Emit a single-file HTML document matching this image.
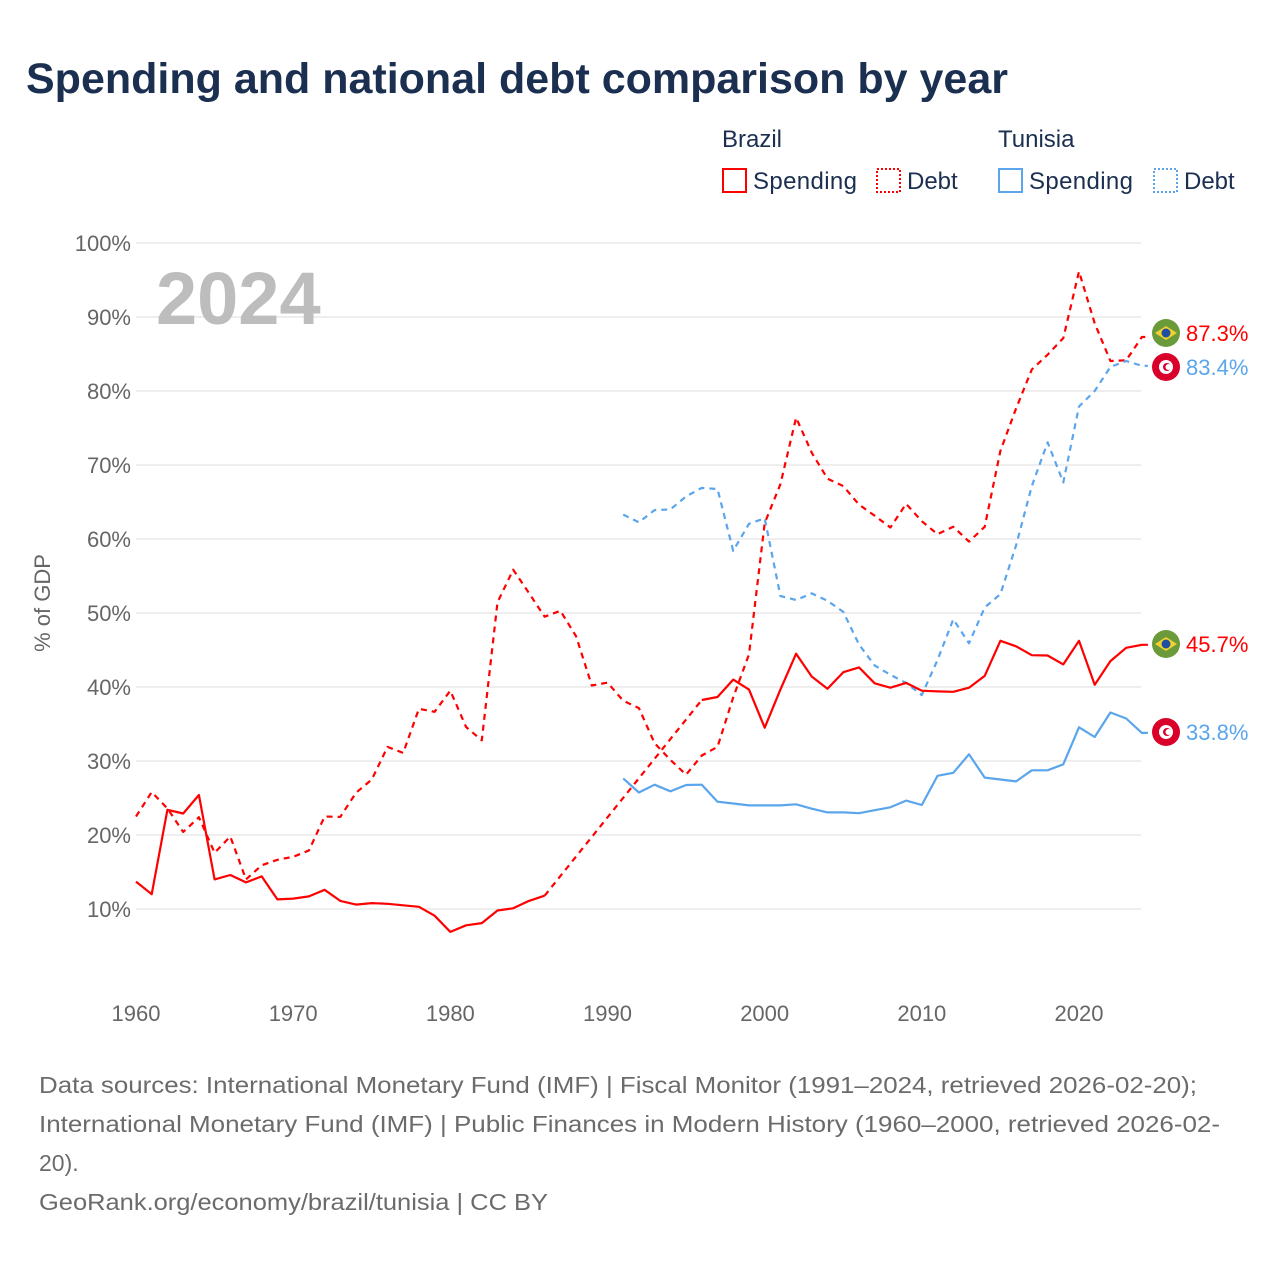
<!DOCTYPE html>
<html><head><meta charset="utf-8"><style>
html,body{margin:0;padding:0;background:#fff;}
body{width:1280px;height:1280px;position:relative;overflow:hidden;font-family:"Liberation Sans",sans-serif;}
</style></head><body>
<svg id="chart" width="1280" height="1280" viewBox="0 0 1280 1280" xmlns="http://www.w3.org/2000/svg" font-family="Liberation Sans, sans-serif">
<text x="26" y="93" font-size="43" font-weight="bold" fill="#1b2f50">Spending and national debt comparison by year</text>
<g font-size="24" fill="#1b2f50">
<text x="722" y="147">Brazil</text>
<text x="998" y="147">Tunisia</text>
<rect x="723" y="169" width="23" height="23" fill="none" stroke="#f00" stroke-width="2"/>
<text x="753" y="189" textLength="104">Spending</text>
<rect x="877" y="169" width="23" height="23" fill="none" stroke="#f00" stroke-width="2" stroke-dasharray="2,2"/>
<text x="907" y="189">Debt</text>
<rect x="999" y="169" width="23" height="23" fill="none" stroke="#5aa5ec" stroke-width="2"/>
<text x="1029" y="189" textLength="104">Spending</text>
<rect x="1154" y="169" width="23" height="23" fill="none" stroke="#5aa5ec" stroke-width="2" stroke-dasharray="2,2"/>
<text x="1184" y="189">Debt</text>
</g>
<g id="grid"></g>
<text x="156" y="324" font-size="74" font-weight="bold" fill="#bdbdbd">2024</text>
<text transform="translate(50,603) rotate(-90)" text-anchor="middle" font-size="22" fill="#666">% of GDP</text>
<g id="series"></g>
<g id="endlabels"></g>
<g font-size="23" fill="#6b6b6b">
<text x="39" y="1093" textLength="1158" lengthAdjust="spacingAndGlyphs">Data sources: International Monetary Fund (IMF) | Fiscal Monitor (1991–2024, retrieved 2026-02-20);</text>
<text x="39" y="1132" textLength="1181" lengthAdjust="spacingAndGlyphs">International Monetary Fund (IMF) | Public Finances in Modern History (1960–2000, retrieved 2026-02-</text>
<text x="39" y="1171">20).</text>
<text x="39" y="1210" textLength="509" lengthAdjust="spacingAndGlyphs">GeoRank.org/economy/brazil/tunisia | CC BY</text>
</g>
</svg>
<script>
const yTicks=[10,20,30,40,50,60,70,80,90,100];
const xTicks=[1960,1970,1980,1990,2000,2010,2020];
const brSpendYears=[1960,1961,1962,1963,1964,1965,1966,1967,1968,1969,1970,1971,1972,1973,1974,1975,1976,1977,1978,1979,1980,1981,1982,1983,1984,1985,1986,1996,1997,1998,1999,2000,2001,2002,2003,2004,2005,2006,2007,2008,2009,2010,2011,2012,2013,2014,2015,2016,2017,2018,2019,2020,2021,2022,2023,2024];
const brSpend=[13.7,12.0,23.4,22.9,25.4,14.0,14.6,13.6,14.4,11.3,11.4,11.7,12.6,11.1,10.6,10.8,10.7,10.5,10.3,9.1,6.9,7.8,8.1,9.8,10.1,11.1,11.8,38.25,38.65,41.0,39.65,34.5,39.65,44.5,41.4,39.75,42.0,42.65,40.5,39.9,40.55,39.5,39.4,39.35,39.9,41.5,46.25,45.5,44.3,44.25,43.05,46.25,40.3,43.5,45.3,45.7];
const brDebtYears=[1960,1961,1962,1963,1964,1965,1966,1967,1968,1969,1970,1971,1972,1973,1974,1975,1976,1977,1978,1979,1980,1981,1982,1983,1984,1985,1986,1987,1988,1989,1990,1991,1992,1993,1994,1995,1996,1997,1998,1999,2000,2001,2002,2003,2004,2005,2006,2007,2008,2009,2010,2011,2012,2013,2014,2015,2016,2017,2018,2019,2020,2021,2022,2023,2024];
const brDebt=[22.5,25.8,23.6,20.4,22.4,17.6,19.8,14.0,15.9,16.65,17.05,17.9,22.5,22.45,25.7,27.5,31.9,31.1,37.05,36.65,39.5,34.6,32.8,51.45,55.85,52.7,49.5,50.3,46.85,40.2,40.6,38.15,37.15,32.4,30.15,28.15,30.75,31.9,38.6,44.4,62.15,67.4,76.4,71.65,68.15,67.15,64.65,63.15,61.55,64.75,62.4,60.65,61.65,59.65,61.65,71.9,77.65,82.9,84.9,87.15,96.15,89.15,84.05,84.15,87.3];
const tnYears=[1991,1992,1993,1994,1995,1996,1997,1998,1999,2000,2001,2002,2003,2004,2005,2006,2007,2008,2009,2010,2011,2012,2013,2014,2015,2016,2017,2018,2019,2020,2021,2022,2023,2024];
const tnDebt=[63.3,62.25,63.9,64.0,65.75,66.9,66.75,58.4,62.05,62.8,52.3,51.75,52.65,51.65,50.15,45.75,42.9,41.65,40.55,38.9,43.65,49.15,45.9,50.75,52.55,59.15,67.15,73.05,67.65,77.9,80.0,83.25,84.05,83.4];
const tnSpend=[27.65,25.75,26.8,25.9,26.75,26.8,24.5,24.25,24.0,24.0,24.0,24.15,23.55,23.05,23.05,22.95,23.35,23.75,24.65,24.05,28.0,28.4,30.9,27.75,27.5,27.25,28.75,28.75,29.55,34.55,33.25,36.55,35.75,33.8];

const NS='http://www.w3.org/2000/svg';
function X(yr){return 136+(yr-1960)*(1079-136)/60;}
function Y(v){return 983-v*7.4;}
function mk(tag,attrs,parent){const e=document.createElementNS(NS,tag);for(const k in attrs)e.setAttribute(k,attrs[k]);parent.appendChild(e);return e;}
const grid=document.getElementById('grid');
yTicks.forEach(t=>{
  const l=mk('line',{x1:136,x2:1141,y1:Y(t),y2:Y(t),stroke:'#e8e8e8','stroke-width':1.5},grid);
  
  
  const tx=mk('text',{x:131,y:Y(t)+8,'text-anchor':'end','font-size':22,fill:'#666'},grid);
  tx.textContent=t+'%';
  
  
});
xTicks.forEach(t=>{
  const tx=mk('text',{x:X(t),y:1021,'text-anchor':'middle','font-size':22,fill:'#666'},grid);
  tx.textContent=t;
  
  
});
const series=document.getElementById('series');
function drawSeries(name,years,vals,color,dashed){
  let segs=[[]];
  for(let i=0;i<years.length;i++){
    if(i>0&&years[i]-years[i-1]>1){
      const c=mk('line',{x1:X(years[i-1]),y1:Y(vals[i-1]),x2:X(years[i]),y2:Y(vals[i]),stroke:color,'stroke-width':2.2,'stroke-dasharray':'6,5',fill:'none'},series);
      
      
      segs.push([]);
    }
    segs[segs.length-1].push(X(years[i]).toFixed(1)+','+Y(vals[i]).toFixed(1));
  }
  const last=years.length-1;
  segs[segs.length-1].push((X(years[last])+6).toFixed(1)+','+Y(vals[last]).toFixed(1));
  segs.forEach((s,k)=>{
    const p=mk('polyline',{points:s.join(' '),fill:'none',stroke:color,'stroke-width':2.2,'stroke-linejoin':'round'},series);
    if(dashed)p.setAttribute('stroke-dasharray','6,5');
    
    
  });
}
drawSeries('brazil-debt',brDebtYears,brDebt,'#ff0000',true);
drawSeries('tunisia-debt',tnYears,tnDebt,'#5aa5ec',true);
drawSeries('tunisia-spending',tnYears,tnSpend,'#5aa5ec',false);
drawSeries('brazil-spending',brSpendYears,brSpend,'#ff0000',false);

const el=document.getElementById('endlabels');
function endLabel(name,v,labelY,color,flag){
  const g=mk('g',{},el);
  
  
  if(flag==='br'){
    mk('circle',{cx:1166,cy:labelY,r:14,fill:'#6a9a3a'},g);
    mk('polygon',{points:`1155,${labelY} 1166,${labelY-7} 1177,${labelY} 1166,${labelY+7}`,fill:'#f2d22e'},g);
    mk('circle',{cx:1166,cy:labelY,r:4.5,fill:'#1f4fa0'},g);
  }else{
    mk('circle',{cx:1166,cy:labelY,r:14,fill:'#d9002a'},g);
    mk('circle',{cx:1166,cy:labelY,r:7,fill:'#fff'},g);
    mk('circle',{cx:1167,cy:labelY,r:4,fill:'#d9002a'},g);
    mk('circle',{cx:1168.5,cy:labelY,r:3,fill:'#fff'},g);
  }
  const t=mk('text',{x:1186,y:labelY+8,'font-size':22,fill:color},g);
  t.textContent=v.toFixed(1)+'%';
}
endLabel('brazil-debt',brDebt[brDebt.length-1],333,'#ff0000','br');
endLabel('tunisia-debt',tnDebt[tnDebt.length-1],367,'#5aa5ec','tn');
endLabel('brazil-spending',brSpend[brSpend.length-1],644,'#ff0000','br');
endLabel('tunisia-spending',tnSpend[tnSpend.length-1],732,'#5aa5ec','tn');
</script>
</body></html>
